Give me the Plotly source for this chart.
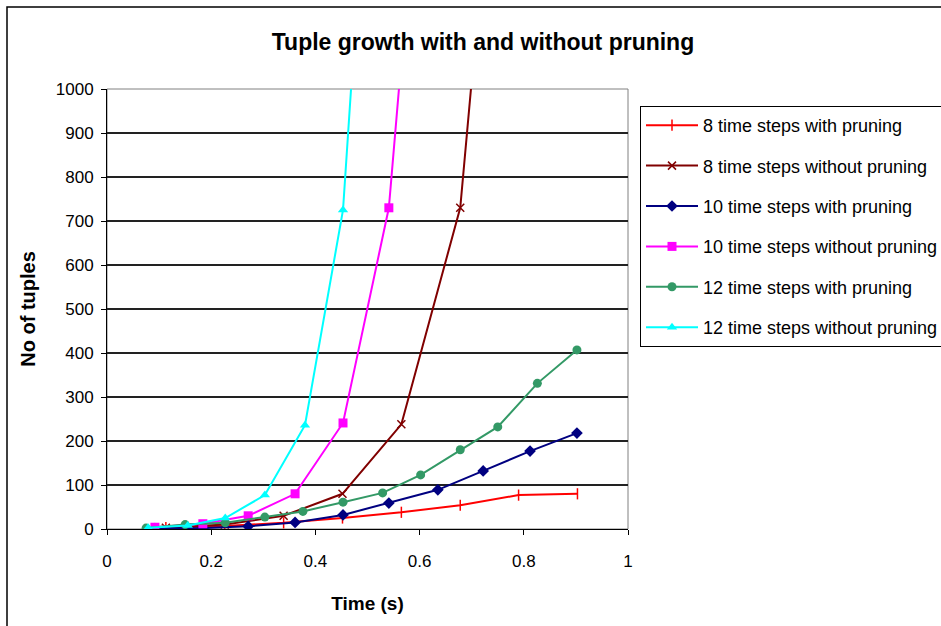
import plotly.graph_objects as go

# ---- data ----
names = [
    "8 time steps with pruning",
    "8 time steps without pruning",
    "10 time steps with pruning",
    "10 time steps without pruning",
    "12 time steps with pruning",
    "12 time steps without pruning",
]

x_8_with = [0.113, 0.226, 0.339, 0.452, 0.565, 0.678, 0.790, 0.903]
y_8_with = [3, 7, 14, 25, 38, 54, 77, 80]

x_8_without = [0.113, 0.226, 0.339, 0.452, 0.565, 0.678, 0.790]
y_8_without = [3, 10, 30, 80, 238, 730, 2200]

x_10_with = [0.092, 0.184, 0.271, 0.361, 0.453, 0.541, 0.635, 0.722, 0.812, 0.902]
y_10_with = [1, 2, 6, 15, 32, 59, 89, 132, 177, 218]

x_10_without = [0.092, 0.184, 0.271, 0.361, 0.453, 0.541, 0.632]
y_10_without = [4, 12, 30, 80, 241, 730, 2000]

x_12_with = [0.075, 0.150, 0.227, 0.303, 0.376, 0.453, 0.529, 0.602, 0.678, 0.750, 0.826, 0.902]
y_12_with = [2, 10, 14, 27, 40, 61, 82, 123, 180, 232, 331, 407]

x_12_without = [0.079, 0.155, 0.227, 0.303, 0.380, 0.453, 0.530]
y_12_without = [3, 8, 25, 77, 236, 725, 2100]

x_ticks = [0, 0.2, 0.4, 0.6, 0.8, 1]
x_tick_labels = ["0", "0.2", "0.4", "0.6", "0.8", "1"]
y_ticks = list(range(0, 1001, 100))

colors = ["#FF0000", "#800000", "#000080", "#FF00FF", "#339966", "#00FFFF"]
symbols = ["line-ns", "x-thin", "diamond", "square", "circle", "triangle-up"]

series = [
    (x_8_with, y_8_with),
    (x_8_without, y_8_without),
    (x_10_with, y_10_with),
    (x_10_without, y_10_without),
    (x_12_with, y_12_with),
    (x_12_without, y_12_without),
]

FONT = "Liberation Sans, Arial, sans-serif"

fig = go.Figure()
for i, ((xs, ys), name) in enumerate(zip(series, names)):
    sym = symbols[i]
    open_sym = sym in ("line-ns", "x-thin")
    fig.add_trace(go.Scatter(
        x=xs, y=ys, name=name, mode="lines+markers",
        legendgroup="g%d" % i,
        line=dict(color=colors[i], width=2),
        marker=dict(symbol=sym, size=9 if not open_sym else 8, color=colors[i],
                    line=dict(color=colors[i], width=1.5 if open_sym else 0)),
        cliponaxis=True,
    ))

W, H = 941, 626
L, R, T, B = 107, 941 - 628, 89, 626 - 529
pw, ph = W - L - R, H - T - B

def px(xp):
    return (xp - L) / pw

def py(yp):
    return (H - B - yp) / ph

fig.update_layout(
    width=W, height=H,
    margin=dict(l=L, r=R, t=T, b=B, autoexpand=False),
    paper_bgcolor="white", plot_bgcolor="white",
    font=dict(family=FONT, size=17, color="black"),
    title=dict(text="<b>Tuple growth with and without pruning</b>",
               x=483 / W, xref="container", xanchor="center",
               y=1 - 42 / H, yref="container", yanchor="middle",
               font=dict(size=23, family=FONT)),
    showlegend=True,
    legend=dict(x=px(640), xanchor="left", y=py(106), yanchor="top",
                bordercolor="black", borderwidth=1, bgcolor="white",
                font=dict(size=18, family=FONT),
                traceorder="grouped", tracegroupgap=14, itemwidth=52),
    xaxis=dict(range=[0, 1], tickvals=x_ticks, ticktext=x_tick_labels,
               showgrid=False, showline=True, linecolor="black", linewidth=1,
               ticks="outside", ticklen=5, tickcolor="black",
               ticklabelstandoff=12, zeroline=False,
               title=dict(text="<b>Time (s)</b>", standoff=26,
                          font=dict(size=19, family=FONT))),
    yaxis=dict(range=[0, 1000], tickvals=y_ticks,
               showgrid=True, gridcolor="#222222", gridwidth=1.5,
               showline=True, linecolor="black", linewidth=1,
               ticks="outside", ticklen=5, tickcolor="black",
               ticklabelstandoff=4, zeroline=False,
               title=dict(text="<b>No of tuples</b>", standoff=14,
                          font=dict(size=20, family=FONT))),
    shapes=[
        dict(type="rect", xref="paper", yref="paper", x0=0, x1=1, y0=0, y1=1,
             line=dict(color="#808080", width=1), layer="below"),
        dict(type="rect", xref="paper", yref="paper",
             x0=px(7), x1=px(990), y0=py(680), y1=py(7),
             line=dict(color="black", width=1.5)),
    ],
)

fig.write_html("out.html")
